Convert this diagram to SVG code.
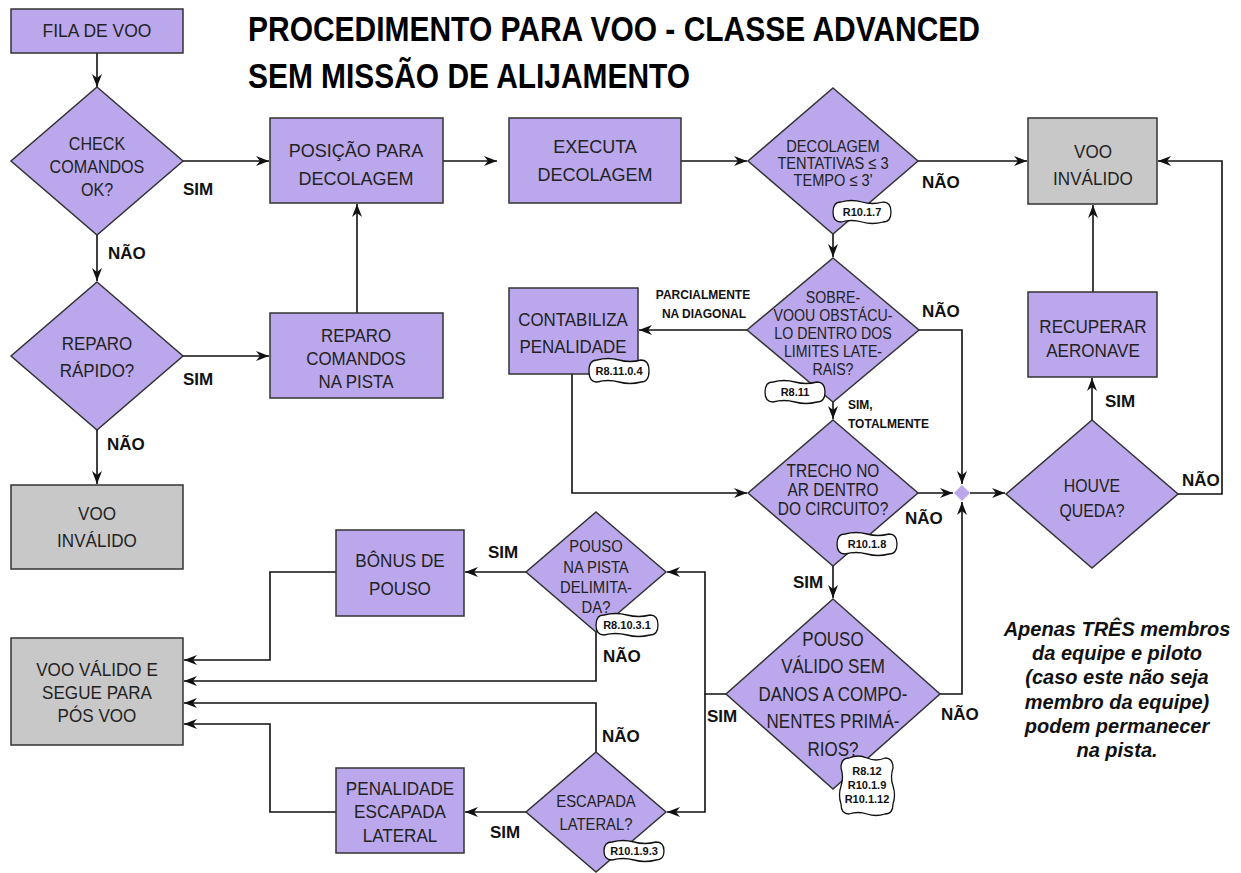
<svg xmlns="http://www.w3.org/2000/svg" width="1241" height="873" viewBox="0 0 1241 873">
<defs>
<marker id="a" markerUnits="userSpaceOnUse" markerWidth="14" markerHeight="10" refX="13" refY="5" orient="auto">
<path d="M0,0 L13,5 L0,10 L4,5 Z" fill="#111"/>
</marker>
<style>
.n{fill:#BBA8EC;stroke:#333;stroke-width:1.5}
.g{fill:#C8C8C8;stroke:#333;stroke-width:1.5}
.t{font-family:"Liberation Sans",Arial,sans-serif;fill:#222;text-anchor:middle}
.lb{font-family:"Liberation Sans",Arial,sans-serif;font-weight:bold;font-size:17px;fill:#111}
.sl{font-family:"Liberation Sans",Arial,sans-serif;font-weight:bold;font-size:12px;fill:#111}
.c{fill:none;stroke:#111;stroke-width:1.6;marker-end:url(#a)}
.tag{fill:#fff;stroke:#111;stroke-width:1.3}
.tt{font-family:"Liberation Sans",Arial,sans-serif;font-weight:bold;font-size:11px;fill:#111;text-anchor:middle}
.ti{font-family:"Liberation Sans",Arial,sans-serif;font-weight:bold;font-size:35px;fill:#000}
.note{font-family:"Liberation Sans",Arial,sans-serif;font-weight:bold;font-style:italic;font-size:20px;fill:#111;text-anchor:middle}
</style>
</defs>
<rect width="1241" height="873" fill="#fff"/>

<g id="title">
<text class="ti" x="248" y="41" textLength="732" lengthAdjust="spacingAndGlyphs">PROCEDIMENTO PARA VOO - CLASSE ADVANCED</text>
<text class="ti" x="248" y="88" textLength="442" lengthAdjust="spacingAndGlyphs">SEM MISSÃO DE ALIJAMENTO</text>
</g>

<g id="connectors">
<path class="c" d="M97,53 V87"/>
<path class="c" d="M182,161 H269"/>
<path class="c" d="M443,161 H497"/>
<path class="c" d="M97,235 V281"/>
<path class="c" d="M182,356 H269"/>
<path class="c" d="M357,313 V204"/>
<path class="c" d="M97,430 V484"/>
<path class="c" d="M681,161 H747"/>
<path class="c" d="M918,161 H1027"/>
<path class="c" d="M833,234 V257"/>
<path class="c" d="M747,330 H639"/>
<path class="c" d="M919,330 H962 V484"/>
<path class="c" d="M833,402 V419"/>
<path class="c" d="M572,374 V493 H747"/>
<path class="c" d="M918,493 H953"/>
<path class="c" d="M970,493 H1005"/>
<path class="c" d="M940,694 H962 V502"/>
<path class="c" d="M833,566 V598"/>
<path class="c" d="M1092,420 V378"/>
<path class="c" d="M1093,292 V205"/>
<path class="c" d="M1178,494 H1222 V161 H1158"/>
<path class="c" d="M726,694 H705 V572 H667"/>
<path class="c" d="M705,694 V812 H667"/>
<path class="c" d="M526,572 H465"/>
<path class="c" d="M336,572 H270 V660 H184"/>
<path class="c" d="M596,632 V681 H184"/>
<path class="c" d="M596,752 V703 H184"/>
<path class="c" d="M526,812 H465"/>
<path class="c" d="M336,812 H270 V724 H184"/>
<polygon id="junction" points="962,485 970,493 962,501 954,493" fill="#BBA8EC"/>

<text class="lb" x="183" y="195">SIM</text>
<text class="lb" x="108" y="259">NÃO</text>
<text class="lb" x="183" y="385">SIM</text>
<text class="lb" x="107" y="450">NÃO</text>
<text class="lb" x="922" y="188">NÃO</text>
<text class="sl" x="703" y="299" text-anchor="middle">PARCIALMENTE</text>
<text class="sl" x="704" y="318" text-anchor="middle">NA DIAGONAL</text>
<text class="lb" x="922" y="317">NÃO</text>
<text class="sl" x="848" y="409">SIM,</text>
<text class="sl" x="848" y="428">TOTALMENTE</text>
<text class="lb" x="905" y="524">NÃO</text>
<text class="lb" x="793" y="588">SIM</text>
<text class="lb" x="941" y="720">NÃO</text>
<text class="lb" x="707" y="722">SIM</text>
<text class="lb" x="1105" y="407">SIM</text>
<text class="lb" x="1182" y="486">NÃO</text>
<text class="lb" x="488" y="558">SIM</text>
<text class="lb" x="603" y="662">NÃO</text>
<text class="lb" x="602" y="742">NÃO</text>
<text class="lb" x="490" y="838">SIM</text>
</g>

<g id="fila-de-voo">
<rect class="n" x="11" y="9" width="172" height="44"/>
<text class="t" x="97" y="37" font-size="17.5">FILA DE VOO</text>
</g>

<g id="check-comandos">
<polygon class="n" points="97,87 183,161 97,235 11,161"/>
<text class="t" font-size="18.5" transform="translate(97,0) scale(0.87,1) translate(-97,0)"><tspan x="97" y="150">CHECK</tspan><tspan x="97" y="173">COMANDOS</tspan><tspan x="97" y="196">OK?</tspan></text>
</g>

<g id="posicao-decolagem">
<rect class="n" x="270" y="118" width="173" height="85"/>
<text class="t" font-size="18"><tspan x="356" y="157">POSIÇÃO PARA</tspan><tspan x="356" y="185">DECOLAGEM</tspan></text>
</g>

<g id="reparo-rapido">
<polygon class="n" points="97,282 183,356 97,430 11,356"/>
<text class="t" font-size="18.5" transform="translate(97,0) scale(0.92,1) translate(-97,0)"><tspan x="97" y="350">REPARO</tspan><tspan x="97" y="377">RÁPIDO?</tspan></text>
</g>

<g id="reparo-comandos">
<rect class="n" x="270" y="313" width="173" height="85"/>
<text class="t" font-size="18" transform="translate(356,0) scale(0.94,1) translate(-356,0)"><tspan x="356" y="342">REPARO</tspan><tspan x="356" y="365">COMANDOS</tspan><tspan x="356" y="388">NA PISTA</tspan></text>
</g>

<g id="voo-invalido-1">
<rect class="g" x="11" y="485" width="172" height="84"/>
<text class="t" font-size="18" transform="translate(97,0) scale(0.95,1) translate(-97,0)"><tspan x="97" y="520">VOO</tspan><tspan x="97" y="547">INVÁLIDO</tspan></text>
</g>

<g id="executa-decolagem">
<rect class="n" x="509" y="118" width="172" height="85"/>
<text class="t" font-size="18"><tspan x="595" y="153">EXECUTA</tspan><tspan x="595" y="181">DECOLAGEM</tspan></text>
</g>

<g id="decolagem-tentativas">
<polygon class="n" points="833,88 918,161 833,234 748,161"/>
<text class="t" font-size="17" transform="translate(833,0) scale(0.86,1) translate(-833,0)"><tspan x="833" y="152">DECOLAGEM</tspan><tspan x="833" y="169">TENTATIVAS ≤ 3</tspan><tspan x="833" y="186">TEMPO ≤ 3'</tspan></text>
<path class="tag" transform="translate(862,212)" d="M-21,-10 Q-10.5,-13 0,-10 T21,-10 Q29,-10 29,0 Q29,10 21,10 Q10.5,13 0,10 T-21,10 Q-29,10 -29,0 Q-29,-10 -21,-10 Z"/>
<text class="tt" x="862" y="216">R10.1.7</text>
</g>

<g id="sobrevoou">
<polygon class="n" points="833,258 919,330 833,402 747,330"/>
<text class="t" font-size="16.5" transform="translate(833,0) scale(0.86,1) translate(-833,0)"><tspan x="833" y="303">SOBRE-</tspan><tspan x="833" y="321">VOOU OBSTÁCU-</tspan><tspan x="833" y="339">LO DENTRO DOS</tspan><tspan x="833" y="357">LIMITES LATE-</tspan><tspan x="833" y="375">RAIS?</tspan></text>
<path class="tag" transform="translate(795,392)" d="M-22,-10 Q-11,-13 0,-10 T22,-10 Q30,-10 30,0 Q30,10 22,10 Q11,13 0,10 T-22,10 Q-30,10 -30,0 Q-30,-10 -22,-10 Z"/>
<text class="tt" x="795" y="396">R8.11</text>
</g>

<g id="contabiliza-penalidade">
<rect class="n" x="509" y="288" width="129" height="86"/>
<text class="t" font-size="18" transform="translate(573,0) scale(0.94,1) translate(-573,0)"><tspan x="573" y="326">CONTABILIZA</tspan><tspan x="573" y="353">PENALIDADE</tspan></text>
<path class="tag" transform="translate(619,371)" d="M-22,-11 Q-11,-14 0,-11 T22,-11 Q30,-11 30,0 Q30,11 22,11 Q11,14 0,11 T-22,11 Q-30,11 -30,0 Q-30,-11 -22,-11 Z"/>
<text class="tt" x="619" y="375">R8.11.0.4</text>
</g>

<g id="trecho-no-ar">
<polygon class="n" points="833,420 918,493 833,566 748,493"/>
<text class="t" font-size="18" transform="translate(833,0) scale(0.86,1) translate(-833,0)"><tspan x="833" y="477">TRECHO NO</tspan><tspan x="833" y="496">AR DENTRO</tspan><tspan x="833" y="515">DO CIRCUITO?</tspan></text>
<path class="tag" transform="translate(867,544)" d="M-22,-10 Q-11,-13 0,-10 T22,-10 Q30,-10 30,0 Q30,10 22,10 Q11,13 0,10 T-22,10 Q-30,10 -30,0 Q-30,-10 -22,-10 Z"/>
<text class="tt" x="867" y="548">R10.1.8</text>
</g>

<g id="pouso-valido">
<polygon class="n" points="833,599 940,694 833,789 726,694"/>
<text class="t" font-size="19.5" transform="translate(833,0) scale(0.87,1) translate(-833,0)"><tspan x="833" y="646">POUSO</tspan><tspan x="833" y="673">VÁLIDO SEM</tspan><tspan x="833" y="701">DANOS A COMPO-</tspan><tspan x="833" y="728">NENTES PRIMÁ-</tspan><tspan x="833" y="756">RIOS?</tspan></text>
<path class="tag" transform="translate(867,786)" d="M-18,-28 Q-9,-32 0,-28 T18,-28 Q26,-28 26,-18 Q23,-9 26,0 T26,18 Q26,28 18,28 Q9,31 0,28 T-18,28 Q-26,28 -26,18 Q-29,9 -26,0 T-26,-18 Q-26,-28 -18,-28 Z"/>
<text class="tt"><tspan x="867" y="775">R8.12</tspan><tspan x="867" y="789">R10.1.9</tspan><tspan x="867" y="803">R10.1.12</tspan></text>
</g>

<g id="pouso-na-pista">
<polygon class="n" points="596,512 666,572 596,632 526,572"/>
<text class="t" font-size="17" transform="translate(596,0) scale(0.87,1) translate(-596,0)"><tspan x="596" y="552">POUSO</tspan><tspan x="596" y="573">NA PISTA</tspan><tspan x="596" y="593">DELIMITA-</tspan><tspan x="596" y="613">DA?</tspan></text>
<path class="tag" transform="translate(627,625)" d="M-23,-10 Q-11.5,-13 0,-10 T23,-10 Q31,-10 31,0 Q31,10 23,10 Q11.5,13 0,10 T-23,10 Q-31,10 -31,0 Q-31,-10 -23,-10 Z"/>
<text class="tt" x="627" y="629">R8.10.3.1</text>
</g>

<g id="escapada-lateral">
<polygon class="n" points="596,752 666,812 596,872 526,812"/>
<text class="t" font-size="17" transform="translate(596,0) scale(0.87,1) translate(-596,0)"><tspan x="596" y="807">ESCAPADA</tspan><tspan x="596" y="830">LATERAL?</tspan></text>
<path class="tag" transform="translate(634,851)" d="M-22,-9 Q-11,-12 0,-9 T22,-9 Q30,-9 30,0 Q30,9 22,9 Q11,12 0,9 T-22,9 Q-30,9 -30,0 Q-30,-9 -22,-9 Z"/>
<text class="tt" x="634" y="855">R10.1.9.3</text>
</g>

<g id="bonus-de-pouso">
<rect class="n" x="336" y="530" width="128" height="86"/>
<text class="t" font-size="18" transform="translate(400,0) scale(0.95,1) translate(-400,0)"><tspan x="400" y="567">BÔNUS DE</tspan><tspan x="400" y="595">POUSO</tspan></text>
</g>

<g id="voo-valido">
<rect class="g" x="11" y="638" width="172" height="107"/>
<text class="t" font-size="18" transform="translate(97,0) scale(0.95,1) translate(-97,0)"><tspan x="97" y="676">VOO VÁLIDO E</tspan><tspan x="97" y="699">SEGUE PARA</tspan><tspan x="97" y="722">PÓS VOO</tspan></text>
</g>

<g id="penalidade-escapada">
<rect class="n" x="336" y="768" width="128" height="85"/>
<text class="t" font-size="18" transform="translate(400,0) scale(0.95,1) translate(-400,0)"><tspan x="400" y="795">PENALIDADE</tspan><tspan x="400" y="818">ESCAPADA</tspan><tspan x="400" y="842">LATERAL</tspan></text>
</g>

<g id="voo-invalido-2">
<rect class="g" x="1028" y="118" width="129" height="86"/>
<text class="t" font-size="18" transform="translate(1093,0) scale(0.95,1) translate(-1093,0)"><tspan x="1093" y="158">VOO</tspan><tspan x="1093" y="185">INVÁLIDO</tspan></text>
</g>

<g id="recuperar-aeronave">
<rect class="n" x="1028" y="292" width="129" height="85"/>
<text class="t" font-size="18" transform="translate(1093,0) scale(0.95,1) translate(-1093,0)"><tspan x="1093" y="333">RECUPERAR</tspan><tspan x="1093" y="357">AERONAVE</tspan></text>
</g>

<g id="houve-queda">
<polygon class="n" points="1092,420 1178,494 1092,568 1006,494"/>
<text class="t" font-size="18" transform="translate(1092,0) scale(0.88,1) translate(-1092,0)"><tspan x="1092" y="492">HOUVE</tspan><tspan x="1092" y="517">QUEDA?</tspan></text>
</g>

<g id="note">
<text class="note"><tspan x="1117" y="636">Apenas TRÊS membros</tspan><tspan x="1117" y="660">da equipe e piloto</tspan><tspan x="1117" y="684">(caso este não seja</tspan><tspan x="1117" y="709">membro da equipe)</tspan><tspan x="1117" y="733">podem permanecer</tspan><tspan x="1117" y="757">na pista.</tspan></text>
</g>
</svg>
